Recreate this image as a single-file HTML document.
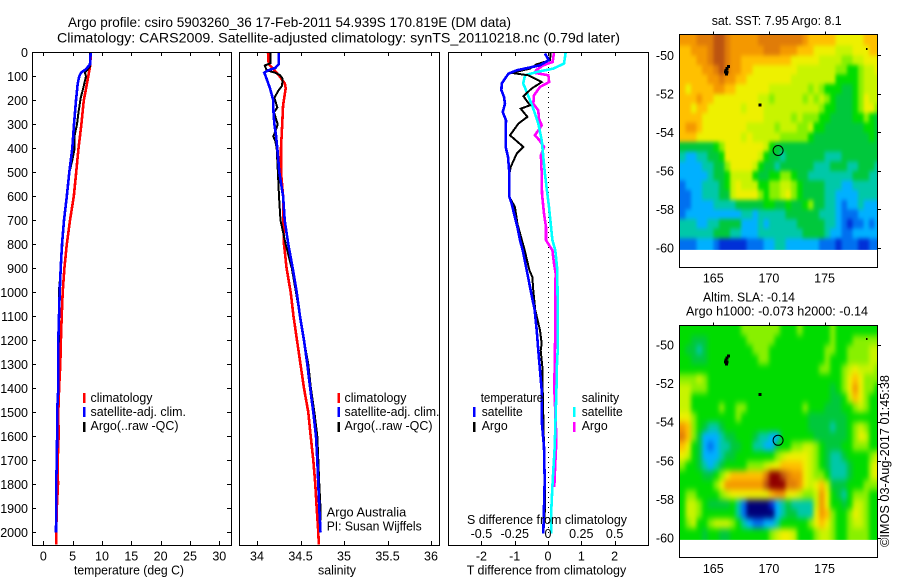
<!DOCTYPE html>
<html lang="en">
<head>
<meta charset="utf-8">
<title>Argo profile 5903260_36</title>
<style>
html,body{margin:0;padding:0;background:#fff;width:900px;height:580px;overflow:hidden}
svg{display:block;font-family:"Liberation Sans",sans-serif;fill:#000}
text{font-size:12.5px}
.f{fill:none;stroke:#000;stroke-width:1;shape-rendering:crispEdges}
.t{font-size:14px}
</style>
</head>
<body>
<svg id="chart" width="900" height="580" viewBox="0 0 900 580">
<defs>
<filter id="sstSmooth" filterUnits="userSpaceOnUse" x="650" y="10" width="250" height="280" color-interpolation-filters="sRGB"><feGaussianBlur stdDeviation="1.5 2.2"/></filter>
<filter id="slaSmooth" filterUnits="userSpaceOnUse" x="650" y="300" width="250" height="280" color-interpolation-filters="sRGB"><feGaussianBlur stdDeviation="2.2 3.2"/></filter>
</defs>
<rect x="0" y="0" width="900" height="580" fill="#fff"/>
<text class="t" x="68" y="27" textLength="443" lengthAdjust="spacingAndGlyphs">Argo profile: csiro 5903260_36 17-Feb-2011 54.939S 170.819E (DM data)</text>
<text class="t" x="57" y="42.5" textLength="563" lengthAdjust="spacingAndGlyphs">Climatology: CARS2009. Satellite-adjusted climatology: synTS_20110218.nc (0.79d later)</text>

<g id="p1"></g>
<g id="p2"></g>
<g id="p3"></g>
<g id="m1"></g>
<g id="m2"></g>

<rect class="f" x="32.5" y="52.5" width="199" height="493"/>
<rect class="f" x="239.5" y="52.5" width="200" height="493"/>
<rect class="f" x="448.5" y="52.5" width="200" height="493"/>
<rect class="f" x="679.5" y="34.5" width="198" height="233"/>
<rect class="f" x="679.5" y="325.5" width="198" height="232"/>

<g>
<rect x="83" y="393" width="2.5" height="10" fill="#f00"/>
<rect x="83" y="407" width="2.5" height="10" fill="#00f"/>
<rect x="83" y="422" width="2.5" height="10" fill="#000"/>
<text x="90.5" y="402" textLength="62" lengthAdjust="spacingAndGlyphs">climatology</text>
<text x="90.5" y="416" textLength="95.5" lengthAdjust="spacingAndGlyphs">satellite-adj. clim.</text>
<text x="90.5" y="430" textLength="88" lengthAdjust="spacingAndGlyphs">Argo(..raw -QC)</text>
</g>
<g>
<rect x="337.5" y="393" width="2.5" height="10" fill="#f00"/>
<rect x="337.5" y="407" width="2.5" height="10" fill="#00f"/>
<rect x="337.5" y="422" width="2.5" height="10" fill="#000"/>
<text x="344.5" y="402" textLength="62" lengthAdjust="spacingAndGlyphs">climatology</text>
<text x="344.5" y="416" textLength="95" lengthAdjust="spacingAndGlyphs">satellite-adj. clim.</text>
<text x="344.5" y="430" textLength="88" lengthAdjust="spacingAndGlyphs">Argo(..raw -QC)</text>
<text x="326.7" y="516.5" textLength="79.5" lengthAdjust="spacingAndGlyphs">Argo Australia</text>
<text x="326.7" y="530.5" textLength="95" lengthAdjust="spacingAndGlyphs">PI: Susan Wijffels</text>
</g>
<g>
<text x="480.7" y="402" textLength="62.5" lengthAdjust="spacingAndGlyphs">temperature</text>
<text x="581.7" y="402" textLength="37.5" lengthAdjust="spacingAndGlyphs">salinity</text>
<rect x="473" y="407" width="2.5" height="10" fill="#00f"/>
<rect x="473" y="422" width="2.5" height="10" fill="#000"/>
<rect x="573" y="407" width="2.5" height="10" fill="#0ff"/>
<rect x="573" y="422" width="2.5" height="10" fill="#f0f"/>
<text x="481.7" y="416" textLength="41" lengthAdjust="spacingAndGlyphs">satellite</text>
<text x="481.7" y="430" textLength="26" lengthAdjust="spacingAndGlyphs">Argo</text>
<text x="581.7" y="416" textLength="41" lengthAdjust="spacingAndGlyphs">satellite</text>
<text x="581.7" y="430" textLength="26" lengthAdjust="spacingAndGlyphs">Argo</text>
</g>

<text x="74" y="574.5" textLength="110" lengthAdjust="spacingAndGlyphs">temperature (deg C)</text>
<text x="318" y="574.5" textLength="38" lengthAdjust="spacingAndGlyphs">salinity</text>
<text x="466.7" y="574.5" textLength="159.5" lengthAdjust="spacingAndGlyphs">T difference from climatology</text>
<text x="467" y="524" textLength="160" lengthAdjust="spacingAndGlyphs">S difference from climatology</text>

<text x="711.7" y="25" textLength="130" lengthAdjust="spacingAndGlyphs">sat. SST: 7.95 Argo: 8.1</text>
<text x="703" y="301.5" textLength="92" lengthAdjust="spacingAndGlyphs">Altim. SLA: -0.14</text>
<text x="686" y="315.5" textLength="182" lengthAdjust="spacingAndGlyphs">Argo h1000: -0.073 h2000: -0.14</text>
<text transform="translate(889,547) rotate(-90)" x="0" y="0" textLength="172" lengthAdjust="spacingAndGlyphs">©IMOS 03-Aug-2017 01:45:38</text>
</svg>

<script>
/* ---------- depth axis ---------- */
const depthTicks = [0,100,200,300,400,500,600,700,800,900,1000,1100,1200,1300,1400,1500,1600,1700,1800,1900,2000];

/* ---------- temperature panel ---------- */
const tempTicks = [0,5,10,15,20,25,30];
const tempClimDepth = [0,60,150,200,300,400,500,600,700,800,900,1000,1100,1200,1300,1400,1500,1600,1700,1800,1900,2000,2050];
const tempClimValues = [8.13,7.96,7.3,6.9,6.5,6.0,5.6,5.2,4.55,4.0,3.6,3.3,3.13,3.0,2.9,2.7,2.56,2.6,2.45,2.5,2.3,2.2,2.18];
const tempSatDepth = [0,50,70,85,100,130,200,300,400,500,600,700,800,900,1000,1100,1200,1300,1400,1500,1600,1700,1800,1900,2000];
const tempSatValues = [8.08,7.96,7.3,6.43,6.14,5.86,5.57,5.23,4.95,4.43,4.0,3.53,3.19,2.97,2.8,2.68,2.56,2.56,2.56,2.35,2.35,2.3,2.2,2.2,2.16];
const tempArgoDepth = [0,60,85,100,150,190,250,300,350,400,450,500,600,700,800,900,1000,1100,1200,1300,1400,1500,1600,1700,1800,1900,1950];
const tempArgoValues = [8.0,7.95,7.1,7.28,6.8,6.37,6.0,5.75,5.3,5.35,4.95,4.45,4.0,3.55,3.25,3.0,2.65,2.7,2.65,2.55,2.55,2.4,2.35,2.35,2.25,2.2,2.2];

/* ---------- salinity panel ---------- */
const salTicks = [34,34.5,35,35.5,36];
const salClimDepth = [0,50,70,100,130,150,220,300,400,500,600,700,800,900,1000,1100,1200,1300,1400,1500,1600,1700,1800,1900,2000,2050];
const salClimValues = [34.126,34.134,34.19,34.26,34.32,34.33,34.3,34.29,34.276,34.276,34.3,34.3,34.31,34.34,34.387,34.42,34.46,34.5,34.54,34.59,34.617,34.647,34.67,34.686,34.705,34.71];
const salSatDepth = [0,50,65,75,85,100,150,200,250,300,350,400,500,600,700,800,900,1000,1100,1200,1300,1400,1500,1600,1700,1800,1900,2000];
const salSatValues = [34.25,34.25,34.21,34.13,34.084,34.1,34.15,34.187,34.19,34.2,34.22,34.233,34.256,34.3,34.318,34.36,34.41,34.456,34.494,34.54,34.578,34.612,34.647,34.678,34.693,34.705,34.716,34.73];
const salArgoDepth = [0,45,55,75,85,95,110,140,160,190,230,250,300,330,350,370,400,450,500,600,700,800,900,1000,1100,1200,1300,1400,1500,1600,1700,1800,1900,1950];
const salArgoValues = [34.157,34.157,34.09,34.11,34.207,34.264,34.295,34.287,34.245,34.2,34.233,34.195,34.238,34.21,34.187,34.21,34.226,34.233,34.24,34.253,34.27,34.33,34.4,34.448,34.494,34.54,34.59,34.62,34.66,34.693,34.705,34.716,34.73,34.73];

/* ---------- difference panel ---------- */
const tDiffTicks = [-2,-1,0,1,2];
const sDiffTicks = [-0.5,-0.25,0,0.25,0.5];
const sDiffTickLabels = ['-0.5','-0.25','0','0.25','0.5'];
const tDiffSatDepth = [5,33,54,75,89,130,158,186,214,249,283,339,394,436,506,603,631,672,728,783,825,908,992,1075,1158,1242,1325,1408,1550,1645,1785,2006];
const tDiffSatValues = [-0.09,0.02,-0.24,-0.94,-1.19,-1.39,-1.4,-1.32,-1.29,-1.36,-1.26,-1.27,-1.27,-1.2,-1.16,-1.16,-1.09,-1.02,-0.92,-0.84,-0.76,-0.64,-0.52,-0.4,-0.34,-0.29,-0.24,-0.19,-0.18,-0.12,-0.1,-0.14];
const tDiffArgoDepth = [0,33,50,68,86,96,124,151,183,221,235,269,297,346,394,422,478,506,603,645,714,825,908,936,992,1075,1158,1214,1242,1325,1408,1645,1785,1950];
const tDiffArgoValues = [0.08,0.06,-0.34,-0.54,-1.09,-0.59,-0.19,-0.49,-0.74,-0.54,-0.82,-0.62,-0.89,-1.14,-0.74,-0.94,-1.12,-1.16,-1.16,-0.99,-0.92,-0.7,-0.56,-0.47,-0.44,-0.38,-0.24,-0.19,-0.22,-0.16,-0.16,-0.12,-0.09,-0.1];
const sDiffSatDepth = [0,47,68,82,96,130,158,228,297,366,506,645,783,825,908,1075,1242,1325,1367,1506,1645,1784,1923,2006];
const sDiffSatValues = [0.133,0.12,0.04,-0.085,-0.173,-0.186,-0.165,-0.115,-0.073,-0.047,-0.023,0.0075,0.033,0.055,0.07,0.073,0.073,0.065,0.065,0.058,0.05,0.035,0.023,0.023];
const sDiffArgoDepth = [0,40,54,75,86,96,124,144,179,214,242,276,304,346,366,394,429,506,589,672,728,783,825,880,922,992,1200,1400,1570,1650,1730,1811];
const sDiffArgoValues = [0.045,0.035,-0.035,-0.09,-0.098,0.003,0.008,-0.06,-0.105,-0.11,-0.073,-0.068,-0.047,-0.098,-0.065,-0.03,-0.053,-0.047,-0.045,-0.03,-0.015,-0.015,0.033,0.045,0.058,0.053,0.053,0.047,0.06,0.06,0.053,0.047];

/* ---------- map axes ---------- */
const lonTicks = [165,170,175];
const latTicks = [-50,-52,-54,-56,-58,-60];
const profileLon = [170.82];
const profileLat = [-54.94];
const islandLon = [166.3,166.2,166.1,166.05,166.2,166.15,169.15,178.8];
const islandLat = [-50.55,-50.65,-50.75,-50.85,-50.85,-50.95,-52.55,-49.68];

/* ---------- sat SST map: colour level per 0.5 degree cell, row = latitude, col = longitude ---------- */
const sstLevels = [
[11,11,11,12,12,12,13,13,12,11,11,11,11,11,12,12,12,12,12,12,12,12,11,10,10,10,10,10,9,9,9,9,9,10,10,10],
[10,10,11,11,11,12,13,13,12,11,11,11,11,11,11,12,12,12,11,11,11,10,10,10,9,9,9,9,8,8,8,9,9,9,10,10],
[10,10,10,11,11,12,13,13,12,11,11,10,10,10,10,10,10,10,10,10,9,9,9,9,9,8,8,8,8,7,7,8,8,9,9,9],
[10,10,10,10,11,11,12,13,12,11,11,10,10,9,9,9,9,9,9,9,9,8,8,8,8,8,8,8,7,7,6,6,7,8,8,9],
[10,10,10,10,10,11,11,12,11,11,10,10,9,9,9,9,9,9,9,9,8,8,8,8,8,8,8,8,6,6,6,6,7,8,8,8],
[10,9,10,10,10,10,11,11,10,10,9,9,9,9,9,9,8,8,8,8,8,8,8,7,8,7,6,6,6,5,5,6,7,8,8,8],
[10,10,10,11,10,10,9,9,9,9,9,9,9,9,8,8,7,8,8,8,8,8,7,8,7,8,7,6,5,5,5,6,7,9,8,8],
[10,10,9,10,10,9,9,9,9,9,9,8,9,9,9,8,8,8,8,8,8,8,8,8,8,7,6,6,5,5,5,6,7,9,9,7],
[10,10,10,10,9,9,9,9,9,9,9,9,9,9,9,8,8,8,8,8,7,8,7,7,7,6,6,5,5,5,5,6,6,7,6,5],
[10,11,11,10,9,9,9,9,9,9,9,9,8,8,8,8,8,7,8,8,8,7,7,8,6,6,5,5,5,5,5,5,5,6,6,5],
[10,10,10,9,9,9,9,9,9,9,9,8,9,8,8,8,8,8,7,7,7,7,7,6,5,5,5,5,5,5,5,5,5,5,6,5],
[5,5,5,5,5,5,6,7,9,9,9,9,9,9,9,8,6,5,5,5,5,5,5,5,5,5,5,5,5,5,5,5,5,5,5,5],
[4,3,3,4,4,5,5,6,9,9,9,9,9,9,8,6,5,5,4,5,5,5,5,5,5,5,4,4,4,5,5,5,5,5,5,5],
[3,3,3,3,4,4,5,5,7,9,9,9,9,8,6,5,5,4,5,5,5,5,5,5,4,4,4,5,5,5,4,4,5,5,5,4],
[3,3,3,3,3,4,5,5,6,8,8,8,8,6,5,5,6,6,7,7,6,5,5,4,4,4,4,4,4,4,4,5,5,5,4,4],
[2,3,3,3,4,4,4,5,6,8,9,8,8,8,6,6,7,7,8,8,7,6,5,5,5,5,4,4,4,3,3,4,4,4,4,4],
[2,2,3,3,4,4,4,5,5,8,9,9,9,9,7,6,7,7,8,9,7,6,5,5,5,5,4,4,3,3,3,3,4,4,4,4],
[2,2,3,3,3,3,4,4,4,4,5,5,5,5,5,6,6,5,5,6,5,5,6,7,5,5,4,4,3,2,3,3,4,3,3,3],
[2,3,3,3,3,3,3,3,3,3,3,4,4,3,4,4,4,4,4,5,5,5,5,5,5,4,4,4,3,2,2,2,3,3,3,3],
[4,4,4,3,3,4,4,5,5,5,5,3,3,3,4,3,4,4,4,4,4,5,5,5,5,5,4,4,3,2,1,2,2,3,2,3],
[4,4,4,4,4,4,5,5,5,4,4,3,3,3,4,4,4,4,4,4,4,4,5,5,5,5,4,3,3,2,2,3,3,3,3,3],
[2,2,2,3,3,3,2,1,1,1,1,1,2,2,2,3,3,4,4,3,3,3,3,3,3,2,2,2,1,2,2,2,1,1,2,2]
];

/* ---------- altimetric SLA map: colour level per 0.5 degree cell ---------- */
const slaLevels = [
[6,6,6,6,6,6,6,6,6,6,6,7,7,7,7,7,7,7,6,6,6,7,6,6,6,6,6,7,6,6,6,6,6,6,6,6],
[6,6,5,5,5,6,6,6,6,6,6,6,7,7,7,7,7,6,6,6,6,6,6,6,6,6,6,7,6,6,6,7,7,7,7,7],
[6,5,5,4,5,6,6,6,6,6,6,6,6,7,7,7,6,6,6,6,6,6,6,6,6,6,7,7,6,6,7,7,7,7,8,8],
[6,6,5,5,5,6,6,6,6,6,6,6,6,6,7,7,6,6,6,6,6,6,6,6,6,6,7,6,6,6,7,7,7,7,8,8],
[6,6,6,6,6,6,6,6,6,6,6,6,6,6,6,6,6,6,6,6,6,6,6,6,6,7,7,6,6,7,8,9,8,8,8,7],
[7,7,7,8,7,6,6,6,6,6,6,6,6,6,6,6,6,6,6,6,6,6,6,6,6,6,6,6,6,7,9,10,9,7,7,7],
[8,8,7,7,7,6,6,6,6,6,6,6,6,6,6,6,6,6,6,6,6,6,6,6,6,6,6,5,6,7,9,11,9,7,7,6],
[8,8,6,6,6,6,6,6,6,6,6,6,6,6,6,6,6,6,6,6,6,6,6,6,6,6,6,5,5,6,8,10,9,7,6,6],
[8,8,6,6,6,6,6,7,6,6,7,7,6,6,6,6,6,6,6,6,6,6,7,6,6,6,5,5,5,6,6,7,8,7,6,6],
[9,9,7,6,6,6,6,6,6,6,7,6,6,6,6,6,6,6,6,6,6,6,6,5,5,5,5,5,5,5,6,6,6,6,6,6],
[11,10,7,6,5,4,4,5,6,6,6,6,6,6,6,6,6,6,6,6,6,6,6,5,5,5,5,4,5,5,6,7,8,7,6,6],
[12,10,7,5,3,3,3,4,5,5,6,6,6,5,4,4,3,3,6,6,6,6,6,6,5,5,5,5,5,5,6,7,9,8,6,6],
[10,9,6,5,3,2,3,4,4,5,5,6,6,4,4,3,3,5,6,6,7,7,8,8,7,6,5,5,5,6,6,7,7,7,6,6],
[9,8,6,5,3,3,3,4,5,5,6,6,6,6,6,6,6,7,8,9,9,9,9,8,7,6,5,4,4,5,6,6,6,6,7,8],
[7,6,6,5,4,3,4,5,6,6,6,6,7,7,7,8,9,9,10,10,10,10,9,8,7,6,5,4,4,4,5,6,6,6,8,9],
[6,6,6,6,5,5,6,7,9,10,10,10,10,10,10,12,14,14,13,12,11,11,9,8,7,7,6,4,4,4,5,6,6,6,8,9],
[6,6,6,6,6,6,7,9,11,11,11,11,11,11,11,13,14,14,14,12,12,11,9,8,9,10,8,5,5,5,6,6,6,7,7,7],
[6,7,7,6,6,6,6,7,8,9,9,9,9,9,9,9,10,11,11,9,9,8,7,7,8,11,9,6,5,4,6,7,7,7,6,6],
[6,8,8,7,6,5,5,5,5,6,4,2,0,0,0,0,1,3,4,5,4,4,4,4,8,11,9,6,6,5,6,8,8,7,6,6],
[6,8,8,7,6,6,6,6,6,6,4,2,0,0,0,0,0,3,4,5,5,4,4,4,9,11,10,7,6,6,7,9,8,7,6,6],
[6,7,8,6,6,7,8,8,8,7,6,4,3,2,2,3,3,4,6,6,6,6,6,7,9,10,9,7,6,6,7,8,8,7,6,6],
[6,6,6,6,5,6,6,5,5,6,6,6,6,6,6,6,7,8,9,9,8,6,6,6,7,8,8,7,6,6,7,7,7,7,6,6]
];

const svgNS = 'http://www.w3.org/2000/svg';
const palette = ['#000078','#0030d8','#0070f0','#00b0ff','#00c8a8','#00c83c','#00dc00','#88f000','#c8f400','#eef000','#ffc000','#f49800','#e07c08','#bc5410','#900000'];

function make(parent, tag, attrs, txt){
  const el = document.createElementNS(svgNS, tag);
  for (const k in attrs) el.setAttribute(k, attrs[k]);
  if (txt !== undefined) el.textContent = txt;
  parent.appendChild(el);
  return el;
}

/* scales */
const yDepth = d => 52.3 + 0.24 * d;
const xTemp = v => 43.3 + 5.867 * v;
const xSal = v => 257 + 87 * (v - 34);
const xTDiff = v => 548 + 33.3 * v;
const xSDiff = v => 548 + 133.2 * v;
const xLon = v => 713.3 + 11.13 * (v - 165);
const yLat1 = v => 55.3 + 19.27 * (-50 - v);
const yLat2 = v => 345 + 19.3 * (-50 - v);

function drawProfile(parent, depths, values, xf, color, width, name){
  const pts = depths.map((d, i) => xf(values[i]).toFixed(1) + ',' + yDepth(d).toFixed(1)).join(' ');
  const el = make(parent, 'polyline', {points: pts, fill: 'none', stroke: color, 'stroke-width': width, 'shape-rendering': 'crispEdges'});
  
  
}

function drawTickMark(parent, x1, y1, x2, y2, name){
  const el = make(parent, 'line', {x1: x1, y1: y1, x2: x2, y2: y2, stroke: '#000', 'stroke-width': 1, 'shape-rendering': 'crispEdges'});
  
  
}

function drawLabel(parent, x, y, anchor, label, name){
  const el = make(parent, 'text', {x: x, y: y, 'text-anchor': anchor}, label);
  
  
}

function drawXAxis(parent, ticks, labels, xf, name){
  ticks.forEach((t, i) => {
    const x = Math.round(xf(t)) + 0.5;
    drawTickMark(parent, x, 545, x, 541, name + '-tick');
    drawTickMark(parent, x, 52, x, 56, name + '-tick');
    drawLabel(parent, xf(t), 560.5, 'middle', labels[i], name + '-tick-label');
  });
}

/* temperature panel */
const p1 = document.getElementById('p1');
drawProfile(p1, tempClimDepth, tempClimValues, xTemp, '#f00', 2.6, 'temperature-climatology-line');
drawProfile(p1, tempArgoDepth, tempArgoValues, xTemp, '#000', 2, 'temperature-argo-line');
drawProfile(p1, tempSatDepth, tempSatValues, xTemp, '#00f', 2.6, 'temperature-satellite-line');
drawXAxis(p1, tempTicks, tempTicks.map(String), xTemp, 'temperature-axis');
depthTicks.forEach(d => {
  const y = Math.round(yDepth(d)) + 0.5;
  drawTickMark(p1, 32, y, 36, y, 'depth-tick');
  drawTickMark(p1, 227, y, 231, y, 'depth-tick');
  drawLabel(p1, 28, yDepth(d) + 4.5, 'end', String(d), 'depth-tick-label');
});

/* salinity panel */
const p2 = document.getElementById('p2');
drawProfile(p2, salClimDepth, salClimValues, xSal, '#f00', 2.6, 'salinity-climatology-line');
drawProfile(p2, salArgoDepth, salArgoValues, xSal, '#000', 2, 'salinity-argo-line');
drawProfile(p2, salSatDepth, salSatValues, xSal, '#00f', 2.6, 'salinity-satellite-line');
drawXAxis(p2, salTicks, salTicks.map(String), xSal, 'salinity-axis');

/* difference panel */
const p3 = document.getElementById('p3');
for (let d = 0; d < 2050; d += 20.8) {
  const dot = make(p3, 'rect', {x: 548, y: yDepth(d).toFixed(0), width: 1, height: 1, fill: '#000', 'shape-rendering': 'crispEdges'});
  
  
}
drawProfile(p3, sDiffArgoDepth, sDiffArgoValues, xSDiff, '#f0f', 2.6, 's-difference-argo-line');
drawProfile(p3, sDiffSatDepth, sDiffSatValues, xSDiff, '#0ff', 2.6, 's-difference-satellite-line');
drawProfile(p3, tDiffArgoDepth, tDiffArgoValues, xTDiff, '#000', 2, 't-difference-argo-line');
drawProfile(p3, tDiffSatDepth, tDiffSatValues, xTDiff, '#00f', 2.6, 't-difference-satellite-line');
drawXAxis(p3, tDiffTicks, tDiffTicks.map(String), xTDiff, 't-difference-axis');
sDiffTicks.forEach((t, i) => {
  drawLabel(p3, xSDiff(t), 538, 'middle', sDiffTickLabels[i], 's-difference-tick-label');
});

/* maps */
function drawMap(parent, levels, yLat, topY, name, labelY, filterId){
  const clipId = name + '-clip';
  const clip = make(document.querySelector('defs'), 'clipPath', {id: clipId});
  make(clip, 'rect', {x: 679.5, y: topY, width: 198, height: yLat(-60.1) - topY});
  const clipped = make(parent, 'g', {'clip-path': 'url(#' + clipId + ')'});
  
  
  const cells = make(clipped, 'g', {filter: 'url(#' + filterId + ')'});
  
  
  const bleed = 14;
  levels.forEach((row, r) => {
    const latTop = -49 - r * 0.5;
    const latBot = latTop - 0.5;
    row.forEach((lev, c) => {
      const lonL = 162 + c * 0.5;
      let x0 = xLon(lonL), x1 = xLon(lonL + 0.5);
      let y0 = yLat(latTop), y1 = yLat(latBot);
      if (c === 0) x0 -= bleed;
      if (c === row.length - 1) x1 += bleed;
      if (r === 0) y0 -= bleed;
      if (r === levels.length - 1) y1 += bleed;
      const cell = make(cells, 'rect', {x: x0.toFixed(1), y: y0.toFixed(1), width: (x1 - x0 + 0.5).toFixed(1), height: (y1 - y0 + 0.5).toFixed(1), fill: palette[Math.max(0, Math.min(palette.length - 1, Math.round(lev)))], 'shape-rendering': 'crispEdges'});
      
      
    });
  });
  islandLon.forEach((lon, i) => {
    const dot = make(parent, 'rect', {x: (xLon(lon) - 1).toFixed(1), y: (yLat(islandLat[i]) - 1).toFixed(1), width: i < 7 ? 3 : 1.5, height: i < 7 ? 3 : 2, fill: '#000', 'shape-rendering': 'crispEdges'});
    
    
  });
  const ring = make(parent, 'circle', {cx: xLon(profileLon[0]).toFixed(1), cy: yLat(profileLat[0]).toFixed(1), r: 5, fill: 'none', stroke: '#000', 'stroke-width': 1});
  
  
  lonTicks.forEach(t => {
    const x = Math.round(xLon(t)) + 0.5;
    drawTickMark(parent, x, topY - 3, x, topY, name + '-lon-tick');
    drawLabel(parent, xLon(t), labelY, 'middle', String(t), name + '-lon-label');
  });
  latTicks.forEach(t => {
    const y = Math.round(yLat(t)) + 0.5;
    drawTickMark(parent, 878, y, 881, y, name + '-lat-tick');
    drawLabel(parent, 674, yLat(t) + 4.5, 'end', String(t), name + '-lat-label');
  });
}
drawMap(document.getElementById('m1'), sstLevels, yLat1, 34.5, 'sst-map', 282.5, 'sstSmooth');
drawMap(document.getElementById('m2'), slaLevels, yLat2, 325.5, 'sla-map', 573, 'slaSmooth');
</script>
</body>
</html>
